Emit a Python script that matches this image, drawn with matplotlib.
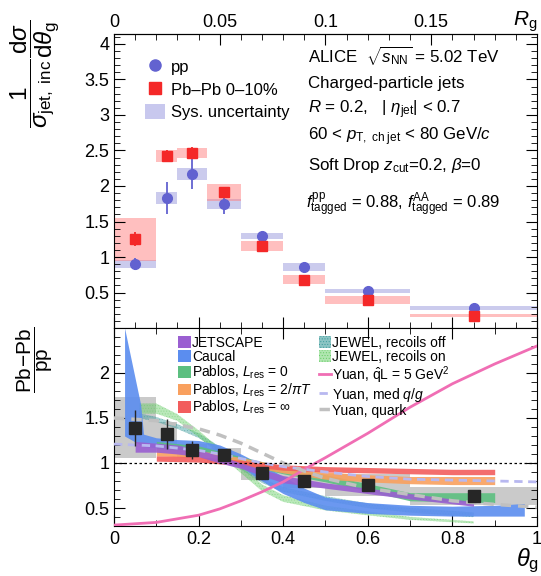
import matplotlib
matplotlib.use("Agg")
import matplotlib.pyplot as plt
import numpy as np
from matplotlib.ticker import MultipleLocator, FuncFormatter
from matplotlib.patches import Rectangle, Patch
from matplotlib.lines import Line2D

plt.rcParams['font.family'] = ['Liberation Sans', 'DejaVu Sans']
plt.rcParams['mathtext.fontset'] = 'custom'
plt.rcParams['mathtext.rm'] = 'Liberation Sans'
plt.rcParams['mathtext.it'] = 'Liberation Sans:italic'
plt.rcParams['mathtext.bf'] = 'Liberation Sans:bold'
plt.rcParams['hatch.linewidth'] = 0.4

# === theta_g binning ===
bin_edges = [0, 0.1, 0.15, 0.22, 0.3, 0.4, 0.5, 0.7, 1.0]
bin_centers = [0.05, 0.125, 0.185, 0.26, 0.35, 0.45, 0.6, 0.85]

# === distributions ===
pp_vals = [0.90, 1.83, 2.17, 1.75, 1.30, 0.86, 0.52, 0.285]
pp_stat = [0.08, 0.22, 0.21, 0.15, 0.05, 0.04, 0.03, 0.02]
pp_sys = [0.06, 0.08, 0.08, 0.07, 0.042, 0.052, 0.03, 0.024]
pbpb_vals = [1.25, 2.42, 2.47, 1.91, 1.15, 0.68, 0.40, 0.175]
pbpb_stat = [0.10, 0.08, 0.08, 0.07, 0.05, 0.04, 0.03, 0.02]
pbpb_sys = [0.30, 0.08, 0.07, 0.125, 0.07, 0.066, 0.056, 0.02]

# === Pb-Pb / pp ratio ===
ratio_vals = [1.39, 1.32, 1.14, 1.09, 0.885, 0.80, 0.755, 0.633]
ratio_stat = [0.20, 0.17, 0.10, 0.06, 0.04, 0.04, 0.04, 0.04]
ratio_sys = [0.34, 0.13, 0.07, 0.08, 0.07, 0.08, 0.12, 0.10]

# === model curves ===
jetscape_x = [0.05, 0.1, 0.15, 0.2, 0.25, 0.3, 0.35, 0.4, 0.5, 0.6, 0.7, 0.85]
jetscape_lo = [1.12, 1.12, 1.10, 1.07, 1.00, 0.94, 0.86, 0.78, 0.72, 0.66, 0.60, 0.52]
jetscape_hi = [1.24, 1.22, 1.20, 1.15, 1.08, 1.00, 0.93, 0.86, 0.78, 0.72, 0.66, 0.57]

caucal_x = [0.025, 0.063, 0.07, 0.1, 0.15, 0.2, 0.25, 0.3, 0.35, 0.4, 0.45, 0.5, 0.6, 0.7, 0.8, 0.9, 0.97]
caucal_lo = [1.30, 1.20, 1.18, 1.17, 1.16, 1.14, 1.08, 0.96, 0.80, 0.66, 0.56, 0.48, 0.44, 0.42, 0.41, 0.41, 0.41]
caucal_hi = [2.50, 1.65, 1.32, 1.28, 1.26, 1.25, 1.20, 1.10, 0.98, 0.85, 0.72, 0.62, 0.56, 0.53, 0.52, 0.53, 0.55]

pablos_x = [0.1, 0.2, 0.3, 0.4, 0.5, 0.6, 0.7, 0.8, 0.9]
pablos0_lo = [1.16, 1.11, 0.99, 0.88, 0.79, 0.69, 0.58, 0.57, 0.56]
pablos0_hi = [1.24, 1.19, 1.07, 0.96, 0.87, 0.77, 0.67, 0.67, 0.67]
pablos2_lo = [1.08, 1.06, 0.98, 0.89, 0.82, 0.79, 0.77, 0.76, 0.76]
pablos2_hi = [1.16, 1.14, 1.06, 0.97, 0.90, 0.87, 0.85, 0.85, 0.85]
pablosinf_lo = [1.02, 1.01, 0.97, 0.92, 0.90, 0.89, 0.88, 0.87, 0.87]
pablosinf_hi = [1.08, 1.07, 1.03, 0.98, 0.96, 0.95, 0.94, 0.93, 0.93]

jewel_x = [0.06, 0.1, 0.15, 0.2, 0.25, 0.3, 0.35, 0.4, 0.5, 0.6, 0.7, 0.85]
jewel_off_lo = [1.50, 1.46, 1.38, 1.28, 1.13, 0.93, 0.78, 0.68, 0.58, 0.50, 0.45, 0.40]
jewel_off_hi = [1.55, 1.51, 1.43, 1.33, 1.18, 0.98, 0.83, 0.73, 0.63, 0.55, 0.50, 0.45]
jewel_on_lo = [1.55, 1.55, 1.47, 1.29, 1.09, 0.89, 0.69, 0.57, 0.475, 0.42, 0.37, 0.33]
jewel_on_hi = [1.66, 1.66, 1.54, 1.36, 1.16, 0.96, 0.76, 0.64, 0.525, 0.46, 0.40, 0.35]

yuan_x = [0.0, 0.1, 0.2, 0.25, 0.3, 0.35, 0.4, 0.45, 0.5, 0.6, 0.7, 0.8, 0.9, 1.0]
yuan_qhat = [0.31, 0.34, 0.42, 0.49, 0.58, 0.68, 0.79, 0.93, 1.06, 1.33, 1.62, 1.88, 2.10, 2.30]
yuan_med = [1.21, 1.19, 1.14, 1.10, 1.05, 1.00, 0.96, 0.93, 0.90, 0.85, 0.82, 0.81, 0.80, 0.79]
yuan_quark = [1.50, 1.47, 1.38, 1.31, 1.22, 1.11, 1.00, 0.91, 0.83, 0.72, 0.65, 0.58, 0.54, 0.51]

c_pp = '#6262d0'
c_pb = '#f42828'
c_jetscape = '#9a5fd1'
c_caucal = '#5b8def'
c_p0 = '#5cbf80'
c_p2 = '#f9a05e'
c_pinf = '#f25d5d'
c_jw_off = '#3d9c9c'
c_jw_on = '#66cc66'
c_qhat = '#f06eb4'
c_med = '#b8b8f0'
c_quark = '#c0c0c0'

fig = plt.figure(figsize=(5.41, 5.76), dpi=100)
ax1 = fig.add_axes([0.2107, 0.4306, 0.7819, 0.5104])
ax2 = fig.add_axes([0.2107, 0.0868, 0.7819, 0.3438])

fmt = FuncFormatter(lambda v, p: f'{v:g}')

# === top panel: distributions ===
for i in range(len(bin_centers)):
    lo, hi = bin_edges[i], bin_edges[i + 1]
    ax1.add_patch(Rectangle((lo, pp_vals[i] - pp_sys[i]), hi - lo, 2 * pp_sys[i],
                            facecolor='#9999dd', alpha=0.5, lw=0))
    ax1.add_patch(Rectangle((lo, pbpb_vals[i] - pbpb_sys[i]), hi - lo, 2 * pbpb_sys[i],
                            facecolor='#ff8080', alpha=0.5, lw=0))

ax1.errorbar(bin_centers, pp_vals, yerr=pp_stat, fmt='o', color=c_pp, ms=7, lw=1.3, capsize=0)
ax1.errorbar(bin_centers, pbpb_vals, yerr=pbpb_stat, fmt='s', color=c_pb, ms=7, lw=1.3, capsize=0)

ax1.set_xlim(0, 1)
ax1.set_ylim(0.001, 4.14)
ax1.xaxis.set_major_locator(MultipleLocator(0.2))
ax1.xaxis.set_minor_locator(MultipleLocator(0.05))
ax1.yaxis.set_minor_locator(MultipleLocator(0.1))
ax1.set_yticks([0.5, 1, 1.5, 2, 2.5, 3, 3.5, 4])
ax1.yaxis.set_major_formatter(fmt)
ax1.tick_params(which='both', direction='in', right=True, top=False, labelbottom=False, labelsize=13)
ax1.tick_params(which='major', length=8)
ax1.tick_params(which='minor', length=4)

secax = ax1.secondary_xaxis('top', functions=(lambda t: t * 0.2, lambda r: r / 0.2))
secax.set_xticks([0, 0.05, 0.1, 0.15])
secax.xaxis.set_major_formatter(fmt)
secax.xaxis.set_minor_locator(MultipleLocator(0.01))
secax.tick_params(which='both', direction='in', labelsize=13, pad=2)
secax.tick_params(which='major', length=8)
secax.tick_params(which='minor', length=4)
fig.text(0.993, 0.962, r'$R_{\mathrm{g}}$', ha='right', va='center', fontsize=15)

top_handles = [
    Line2D([], [], marker='o', ls='none', color=c_pp, ms=8),
    Line2D([], [], marker='s', ls='none', color=c_pb, ms=8),
    Patch(facecolor='#c8c8ee', lw=0),
]
ax1.legend(top_handles, ['pp', 'Pb\u2013Pb 0\u201310%', 'Sys. uncertainty'],
           loc='upper left', bbox_to_anchor=(0.045, 0.955), frameon=False, fontsize=12,
           handlelength=1.2, handleheight=1.0, handletextpad=0.35, labelspacing=0.38, borderpad=0.2)

txt = dict(transform=ax1.transAxes, fontsize=12.2, ha='left', va='center')
ax1.text(0.458, 0.922, r'ALICE  $\sqrt{s_{\mathrm{NN}}}$ = 5.02 TeV', **txt)
ax1.text(0.458, 0.830, 'Charged-particle jets', **txt)
ax1.text(0.458, 0.741, r'$R$ = 0.2,   | $\eta_{\mathrm{jet}}$| < 0.7', **txt)
ax1.text(0.458, 0.650, r'60 < $p_{\mathrm{T,\ ch\ jet}}$ < 80 GeV/$c$', **txt)
ax1.text(0.458, 0.551, r'Soft Drop $z_{\mathrm{cut}}$=0.2, $\beta$=0', **txt)
ax1.text(0.455, 0.418, r'$f_{\mathrm{tagged}}^{\mathrm{pp}}$ = 0.88, $f_{\mathrm{tagged}}^{\mathrm{AA}}$ = 0.89',
         transform=ax1.transAxes, fontsize=12, ha='left', va='center')

fig.text(0.064, 0.872, r'$\dfrac{1}{\sigma_{\mathrm{jet,\ inc}}}\dfrac{\mathrm{d}\sigma}{\mathrm{d}\theta_{\mathrm{g}}}$',
         rotation=90, ha='center', va='center', fontsize=17.5)

# === bottom panel: ratio + models ===
for i in range(len(bin_centers)):
    lo, hi = bin_edges[i], bin_edges[i + 1]
    ax2.add_patch(Rectangle((lo, ratio_vals[i] - ratio_sys[i]), hi - lo, 2 * ratio_sys[i],
                            facecolor='#a0a0a0', alpha=0.55, lw=0, zorder=1))

ax2.fill_between(jewel_x, jewel_off_lo, jewel_off_hi, facecolor=c_jw_off, alpha=0.45,
                 edgecolor=c_jw_off, hatch='......', lw=0.4, ls=':', zorder=2)
ax2.fill_between(jewel_x, jewel_on_lo, jewel_on_hi, facecolor=c_jw_on, alpha=0.45,
                 edgecolor=c_jw_on, hatch='......', lw=0.4, ls=':', zorder=2)
ax2.fill_between(caucal_x, caucal_lo, caucal_hi, color=c_caucal, alpha=0.9, lw=0, zorder=3)
ax2.fill_between(pablos_x, pablos0_lo, pablos0_hi, color=c_p0, alpha=0.9, lw=0, zorder=3)
ax2.fill_between(pablos_x, pablos2_lo, pablos2_hi, color=c_p2, alpha=0.9, lw=0, zorder=3)
ax2.fill_between(pablos_x, pablosinf_lo, pablosinf_hi, color=c_pinf, alpha=0.9, lw=0, zorder=3)
ax2.fill_between(jetscape_x, jetscape_lo, jetscape_hi, color=c_jetscape, alpha=0.9, lw=0, zorder=3)

ax2.plot(yuan_x, yuan_qhat, color=c_qhat, lw=2, zorder=4)
ax2.plot(yuan_x, yuan_med, color=c_med, lw=2, ls=(0, (3, 2)), zorder=4)
ax2.plot(yuan_x, yuan_quark, color=c_quark, lw=2.5, ls=(0, (3, 2)), zorder=4)

ax2.axhline(1, color='black', ls=(0, (2, 2)), lw=0.9, zorder=4)
ax2.errorbar(bin_centers, ratio_vals, yerr=ratio_stat, fmt='s', color='#262626', ms=8, lw=1,
             capsize=0, zorder=5)

ax2.set_xlim(0, 1)
ax2.set_ylim(0.3, 2.5)
ax2.xaxis.set_major_locator(MultipleLocator(0.2))
ax2.xaxis.set_minor_locator(MultipleLocator(0.1))
ax2.xaxis.set_major_formatter(fmt)
ax2.set_yticks([0.5, 1, 1.5, 2])
ax2.yaxis.set_minor_locator(MultipleLocator(0.1))
ax2.yaxis.set_major_formatter(fmt)
ax2.tick_params(which='both', direction='in', right=True, top=True, labelsize=13)
ax2.tick_params(axis='x', pad=3.5)
ax2.tick_params(which='major', length=8)
ax2.tick_params(which='minor', length=4)
fig.text(0.996, 0.001, r'$\theta_{\mathrm{g}}$', ha='right', va='bottom', fontsize=17)

fig.text(0.064, 0.375, r'$\dfrac{\mathrm{Pb\!-\!Pb}}{\mathrm{pp}}$', rotation=90,
         ha='center', va='center', fontsize=15)

model_handles = [
    Patch(facecolor=c_jetscape, lw=0),
    Patch(facecolor=c_caucal, lw=0),
    Patch(facecolor=c_p0, lw=0),
    Patch(facecolor=c_p2, lw=0),
    Patch(facecolor=c_pinf, lw=0),
    Patch(facecolor='#8cc4c4', edgecolor=c_jw_off, hatch='......', lw=0),
    Patch(facecolor='#b0e6b0', edgecolor=c_jw_on, hatch='......', lw=0),
    Line2D([], [], color=c_qhat, lw=2),
    Line2D([], [], color=c_med, lw=2, ls=(0, (3, 2))),
    Line2D([], [], color=c_quark, lw=2.5, ls=(0, (3, 2))),
]
model_labels = [
    'JETSCAPE',
    'Caucal',
    r'Pablos, $L_{\mathrm{res}}$ = 0',
    r'Pablos, $L_{\mathrm{res}}$ = 2/$\pi T$',
    r'Pablos, $L_{\mathrm{res}}$ = $\infty$',
    'JEWEL, recoils off',
    'JEWEL, recoils on',
    r'Yuan, $\hat{\mathrm{q}}$L = 5 GeV$^2$',
    r'Yuan, med $q/g$',
    'Yuan, quark',
]
ax2.legend(model_handles, model_labels, ncol=2, loc='upper left', bbox_to_anchor=(0.13, 1.005),
           frameon=False, fontsize=10, handlelength=0.9, handleheight=0.9, handletextpad=0.1,
           labelspacing=0.0, columnspacing=0.5, borderpad=0.15)

fig.savefig('out.png', dpi=100)
